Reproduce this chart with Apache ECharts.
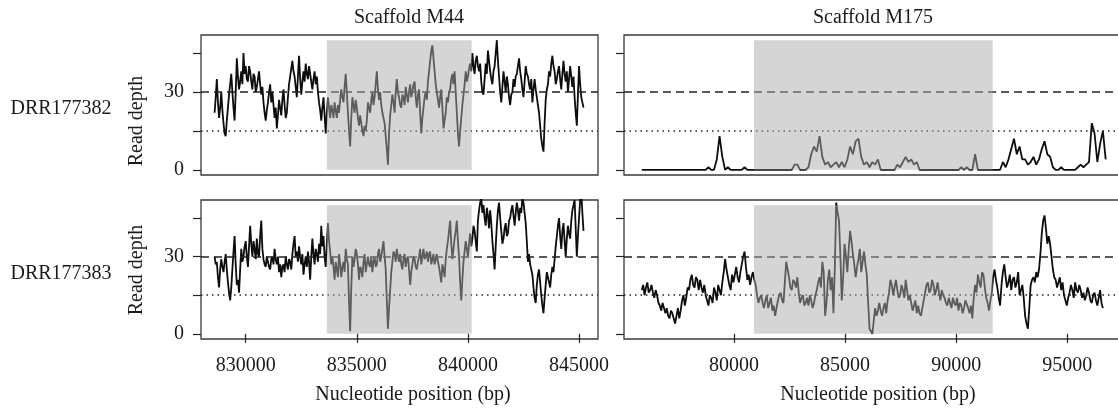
<!DOCTYPE html>
<html>
<head>
<meta charset="utf-8">
<script src="https://cdn.jsdelivr.net/npm/echarts@6/dist/echarts.min.js"></script>
<style>
  html, body { margin: 0; padding: 0; background: #fff; }
  #chart { width: 1118px; height: 408px; }
</style>
</head>
<body>
<div id="chart"></div>
<script>
// ---- data ----
const scaffolds = ['Scaffold M44', 'Scaffold M175'];
const samples = ['DRR177382', 'DRR177383'];
const yTicks = [0, 15, 30, 45];
const yTickLabels = [0, 30];
const xTicksM44 = [830000, 835000, 840000, 845000];
const xTicksM175 = [80000, 85000, 90000, 95000];
const xRangeM44 = [827988, 845853];
const xRangeM175 = [75050, 97460];
const yRange = [-2, 52];
const refHigh = 30;
const refLow = 15;
const shadeM44 = [833650, 840170];
const shadeM175 = [80900, 91640];
const shadeDepth = [0, 50];

// start position (bp) and spacing (bp) of each depth track
const startM44 = 828600, stepM44 = 50;
const startM175 = 75850, stepM175_382 = 125, stepM175_383 = 62.5;

const depthM44_382 = [
  22,28,35,26,20,24,30,23,18,14, 13,19,24,29,33,37,30,24,19,30,
  43,36,31,34,38,33,45,37,40,35, 34,40,38,34,31,37,36,30,32,35,
  38,33,29,32,26,22,19,23,26,30, 33,26,30,25,20,24,16,21,27,24,
  21,27,31,25,20,22,28,33,36,39, 42,38,36,32,28,36,44,35,29,34,
  38,34,41,37,35,40,37,34,31,35, 38,33,36,30,26,23,19,24,28,21,
  14,22,28,24,20,25,23,20,26,23, 20,25,22,27,31,28,26,32,37,30,
  22,15,9,20,28,25,22,27,24,20, 17,21,18,15,13,17,15,19,26,24,
  22,27,30,25,28,33,38,31,27,30, 25,22,20,18,13,8,2,14,21,25,
  29,26,22,30,35,30,28,25,24,29, 28,25,32,29,26,30,33,28,30,33,
  34,28,24,29,31,22,14,20,24,28, 30,27,34,38,42,46,48,43,38,33,
  30,27,24,28,31,24,16,19,22,28, 26,30,31,35,37,33,38,30,22,14,
  9,15,20,25,29,33,38,34,36,39, 41,38,45,40,37,42,44,40,38,41,
  34,30,29,35,41,37,46,42,38,35, 33,38,40,45,50,42,36,30,26,32,
  38,34,30,36,33,28,25,29,30,35, 32,36,37,40,43,38,35,31,28,34,
  40,37,36,33,31,35,26,31,35,31, 28,25,22,17,12,9,7,18,27,31,
  33,38,36,41,44,40,38,33,35,38, 40,35,31,37,42,37,34,38,30,35,
  40,36,32,36,28,22,17,29,40,33, 28,26,24];
const depthM44_383 = [
  30,27,28,22,18,25,29,26,24,28, 31,25,20,16,13,18,25,32,38,27,
  19,21,16,25,33,28,30,34,36,30, 26,34,42,35,30,36,33,29,37,31,
  30,38,44,33,29,27,26,30,28,26, 25,29,30,27,33,29,27,30,24,27,
  22,26,27,24,30,27,25,29,28,25, 31,35,38,30,32,28,34,30,27,31,
  23,27,30,26,32,28,21,30,37,31, 27,33,31,28,35,31,42,34,38,30,
  26,35,43,36,32,27,30,26,21,28, 25,22,31,27,22,26,28,24,33,29,
  27,12,1,18,30,26,29,33,31,27, 21,26,25,22,28,31,24,27,30,27,
  26,30,24,28,30,26,27,31,33,28, 30,33,36,30,25,13,2,10,17,24,
  28,32,31,28,33,30,28,31,27,25, 29,31,26,29,30,25,19,24,27,30,
  29,26,25,28,30,33,27,30,33,29, 30,32,28,31,32,27,29,31,27,29,
  31,28,26,23,20,27,25,22,29,33, 36,40,44,35,29,33,37,40,44,36,
  30,20,13,21,28,32,36,33,30,35, 39,34,37,42,40,36,32,44,48,51,
  53,47,50,45,42,49,46,41,48,43, 36,31,25,34,42,48,51,45,40,35,
  37,41,43,38,39,44,45,48,50,46, 42,47,51,48,44,49,47,53,51,47,
  43,36,28,31,27,25,23,18,14,12, 19,23,25,20,15,11,8,14,19,24,
  22,20,18,23,26,24,29,34,38,42, 45,38,33,40,43,36,30,37,42,39,
  37,44,48,50,52,41,30,38,45,52, 55,47,40];
const depthM175_382 = [
  0,0,0,0,0,0,0,0,0,0, 0,0,0,0,0,0,0,0,0,0, 0,0,0,0,1,0,0,4,13,5,
  0,1,0,0,0,0,0,1,0,0, 0,0,0,0,0,0,0,0,0,0, 0,0,0,0,0,2,2,0,0,0,
  1,6,9,7,13,5,2,3,1,2, 3,1,3,1,4,9,6,11,12,5, 2,3,1,3,2,4,0,0,0,0,
  0,0,2,1,3,5,3,4,2,3, 0,0,0,0,0,0,0,0,0,0, 0,0,0,0,0,1,0,1,0,0,
  6,0,0,0,0,0,0,0,0,0, 3,1,4,8,12,6,9,4,4,2, 3,5,2,4,8,11,6,5,1,0,
  0,1,0,0,0,0,0,1,2,1, 2,3,18,14,3,10,15,4];
const depthM175_383 = [
  17,19,15,18,20,16,17,19,16,14, 17,15,12,11,9,12,10,8,10,7,
  6,9,8,6,4,7,10,6,9,13, 15,11,14,18,17,21,23,19,18,22,
  21,17,21,18,16,19,15,13,11,15, 14,12,18,16,13,19,17,15,20,24,
  29,25,22,19,17,23,20,23,26,22, 20,24,27,30,32,26,21,23,19,22,
  24,21,19,15,12,14,15,12,10,13, 15,10,12,14,9,11,7,10,13,15,
  16,13,12,20,28,25,22,18,17,21, 20,18,22,16,12,14,15,11,12,14,
  11,15,13,10,12,15,17,20,22,18, 28,24,7,12,21,25,17,22,8,26,
  51,47,44,30,13,22,35,30,24,33, 40,36,31,27,22,26,29,33,24,28,
  32,27,23,12,2,1,0,5,10,7, 9,12,9,7,10,12,8,13,16,21,
  19,15,18,21,17,14,15,19,17,14, 21,17,13,15,12,9,11,13,8,11,
  8,7,10,13,16,19,20,16,17,21, 19,15,17,20,16,13,17,15,14,12,
  11,14,12,10,14,12,11,14,9,12, 11,8,10,13,13,10,8,11,6,14,
  19,16,23,20,18,24,23,18,14,12, 9,13,16,22,25,21,18,14,11,19,
  24,27,22,18,20,23,17,21,22,18, 20,24,15,17,19,14,7,4,2,10,
  19,21,22,20,24,22,25,31,39,44, 46,41,35,38,35,30,25,22,21,18,
  20,22,17,20,15,13,11,14,16,19, 17,14,20,17,16,19,17,14,16,13,
  15,18,16,13,12,15,16,13,11,14, 17,12,10];

// ---- build ----
const FONT = "'Liberation Serif', 'DejaVu Serif', serif";
const TXT = '#1a1a1a';
const toPairs = (arr, start, step) => arr.map((v, i) => [start + i * step, v]);

const panels = [
  { grid: { left: 201, top: 35, width: 397, height: 140 }, range: xRangeM44, ticks: xTicksM44, data: toPairs(depthM44_382, startM44, stepM44), shade: shadeM44, bottom: false, leftCol: true },
  { grid: { left: 624, top: 35, width: 498, height: 140 }, range: xRangeM175, ticks: xTicksM175, data: toPairs(depthM175_382, startM175, stepM175_382), shade: shadeM175, bottom: false, leftCol: false },
  { grid: { left: 201, top: 200, width: 397, height: 139 }, range: xRangeM44, ticks: xTicksM44, data: toPairs(depthM44_383, startM44, stepM44), shade: shadeM44, bottom: true, leftCol: true },
  { grid: { left: 624, top: 200, width: 498, height: 139 }, range: xRangeM175, ticks: xTicksM175, data: toPairs(depthM175_383, startM175, stepM175_383), shade: shadeM175, bottom: true, leftCol: false }
];

const grids = [], xAxes = [], yAxes = [], series = [];
panels.forEach((p, k) => {
  grids.push(Object.assign({ show: true, borderColor: '#3a3a3a', borderWidth: 1.3, backgroundColor: 'transparent',
    containLabel: false, outerBoundsMode: 'none' }, p.grid));
  xAxes.push({
    type: 'value', gridIndex: k, min: p.range[0], max: p.range[1],
    axisLine: { show: false }, splitLine: { show: false },
    axisTick: { show: p.bottom, length: 9, lineStyle: { color: '#222', width: 1.2 }, customValues: p.ticks },
    axisLabel: { show: p.bottom, customValues: p.ticks, margin: 17, fontFamily: FONT, fontSize: 20, color: TXT, formatter: v => String(v) }
  });
  yAxes.push({
    type: 'value', gridIndex: k, min: yRange[0], max: yRange[1],
    axisLine: { show: false }, splitLine: { show: false },
    axisTick: { show: true, length: 8, lineStyle: { color: '#222', width: 1.2 }, customValues: yTicks },
    axisLabel: { show: p.leftCol, customValues: yTickLabels, margin: 17, fontFamily: FONT, fontSize: 20, color: TXT }
  });
  series.push({
    type: 'line', xAxisIndex: k, yAxisIndex: k, data: p.data, showSymbol: false, symbol: 'none',
    lineStyle: { color: '#0d0d0d', width: 1.8 }, z: 2, silent: true, animation: false, clip: true,
    markLine: {
      silent: true, symbol: ['none', 'none'], label: { show: false }, animation: false,
      data: [
        { yAxis: refHigh, lineStyle: { type: [8, 5], color: '#222', width: 1.6 } },
        { yAxis: refLow, lineStyle: { type: [1.5, 4], color: '#222', width: 1.5 } }
      ]
    }
  });
  series.push({
    type: 'custom', xAxisIndex: k, yAxisIndex: k, z: 10, silent: true, animation: false,
    data: [[p.shade[0], p.shade[1], shadeDepth[0], shadeDepth[1]]],
    encode: { x: [0, 1], y: [2, 3] },
    renderItem: (params, api) => {
      const a = api.coord([api.value(0), api.value(3)]);
      const b = api.coord([api.value(1), api.value(2)]);
      return { type: 'rect', shape: { x: a[0], y: a[1], width: b[0] - a[0], height: b[1] - a[1] },
               style: { fill: 'rgba(172,172,172,0.5)' } };
    }
  });
});

const textEl = (t, x, y, extra) => Object.assign({ type: 'text', x, y, silent: true,
  style: { text: t, font: `20px ${FONT}`, fill: TXT, align: 'center', verticalAlign: 'middle' } }, extra || {});

const graphics = [
  textEl(scaffolds[0], 409, 18),
  textEl(scaffolds[1], 873, 18),
  textEl('Nucleotide position (bp)', 413, 395),
  textEl('Nucleotide position (bp)', 878, 395),
  textEl(samples[0], 61, 109),
  textEl(samples[1], 61, 274),
  textEl('Read depth', 137, 121, { rotation: Math.PI / 2 }),
  textEl('Read depth', 137, 270, { rotation: Math.PI / 2 })
];

const chart = echarts.init(document.getElementById('chart'), null, { renderer: 'canvas' });
chart.setOption({
  animation: false,
  backgroundColor: '#fff',
  grid: grids, xAxis: xAxes, yAxis: yAxes, series,
  graphic: graphics
});
</script>
</body>
</html>
